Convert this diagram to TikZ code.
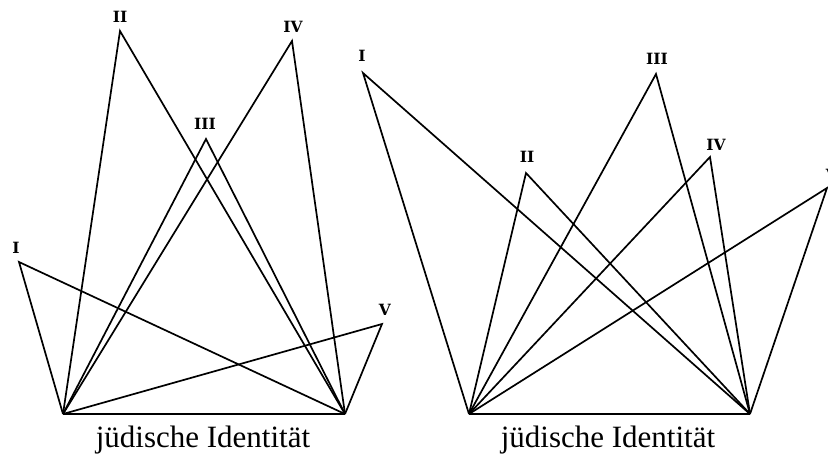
\documentclass[tikz,border=0pt]{standalone}
\usepackage{fontspec}
\setmainfont{Liberation Serif}
\newfontfamily\labfont{DejaVu Serif}
\begin{document}
\begin{tikzpicture}[x=1pt,y=-1pt,
  edge/.style={draw=black,line width=1.7pt,line join=miter},
  lab/.style={font=\labfont\bfseries\fontsize{15.5}{15.5}\selectfont,inner sep=0pt},
  captext/.style={font=\fontsize{31}{31}\selectfont,inner sep=0pt}]
\useasboundingbox (0,0) rectangle (828,461);
% left diagram
\coordinate (LA) at (63,414);
\coordinate (LB) at (345,414);
\coordinate (L1) at (19,262);
\coordinate (L2) at (120,31);
\coordinate (L3) at (206,139);
\coordinate (L4) at (292,41);
\coordinate (L5) at (382,324);
\node[lab] (l1) at (16,248) {I};
\node[lab] (l2) at (120,17) {II};
\node[lab] (l3) at (205,124) {III};
\node[lab] (l4) at (293,27) {IV};
\node[lab] (l5) at (385,310) {V};
\foreach \p in {L1,L2,L3,L4,L5} \draw[edge] (LA) -- (\p) -- (LB);
\draw[edge] (LA) -- (LB);
\node[captext] (c1) at (203,440) {jüdische Identität};
% right diagram
\coordinate (RA) at (469,414);
\coordinate (RB) at (750,414);
\coordinate (R1) at (363,73);
\coordinate (R2) at (526,173);
\coordinate (R3) at (656,74);
\coordinate (R4) at (710,157);
\coordinate (R5) at (827,188);
\node[lab] (r1) at (362,56) {I};
\node[lab] (r2) at (527,157) {II};
\node[lab] (r3) at (657,59) {III};
\node[lab] (r4) at (716,145) {IV};
\node[lab] (r5) at (832,175) {V};
\foreach \p in {R1,R2,R3,R4,R5} \draw[edge] (RA) -- (\p) -- (RB);
\draw[edge] (RA) -- (RB);
\node[captext] (c2) at (608,440) {jüdische Identität};
\end{tikzpicture}
\end{document}
